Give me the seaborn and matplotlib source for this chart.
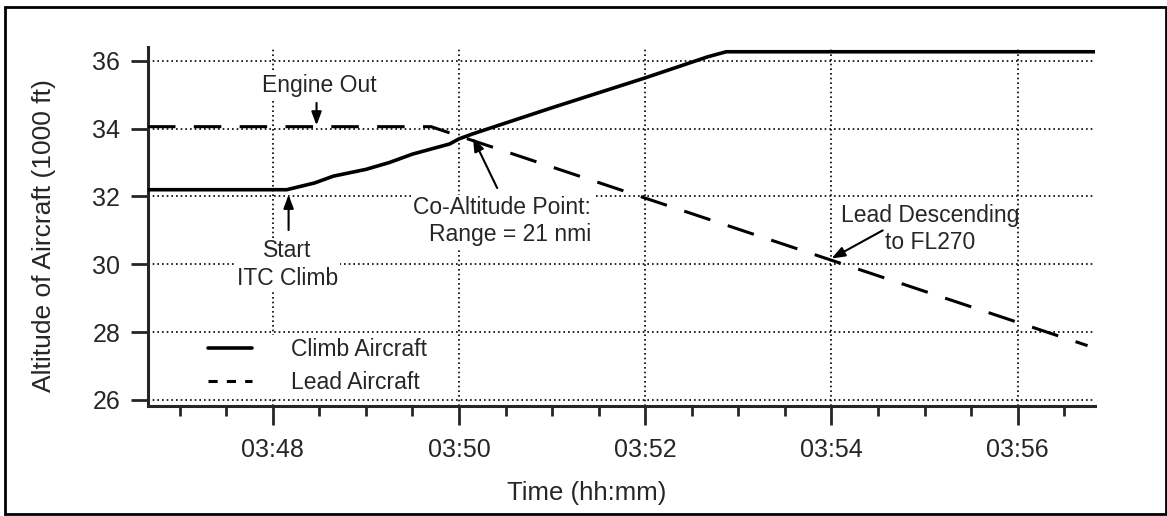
import seaborn as sns
import matplotlib.pyplot as plt
from matplotlib.lines import Line2D
from matplotlib.patches import Rectangle
from matplotlib.ticker import FuncFormatter, MultipleLocator

# time given as minutes after 03:00, altitude in 1000 ft
climb_time = [46.66, 48.15, 48.45, 48.65, 49.0, 49.25, 49.5, 49.9, 50.0, 50.15,
              51.0, 52.0, 52.67, 52.87, 56.83]
climb_alt = [32.2, 32.2, 32.4, 32.6, 32.8, 33.0, 33.25, 33.55, 33.7, 33.85,
             34.62, 35.5, 36.12, 36.27, 36.27]
lead_time = [46.66, 49.7, 56.75]
lead_alt = [34.06, 34.06, 27.6]

y_ticks = [26, 28, 30, 32, 34, 36]
x_ticks = [48, 50, 52, 54, 56]
legend_labels = ['Climb Aircraft', 'Lead Aircraft']

sns.set_style('ticks')
plt.rcParams['font.family'] = ['Liberation Sans', 'DejaVu Sans']

fig = plt.figure(figsize=(11.67, 5.16), dpi=100)
ax = fig.add_axes([0.1268, 0.2132, 0.8115, 0.6957])

sns.lineplot(x=climb_time, y=climb_alt, ax=ax, color='black', linewidth=2.6,
             sort=False, estimator=None, zorder=3)
sns.lineplot(x=lead_time, y=lead_alt, ax=ax, color='black', linewidth=2.2,
             linestyle=(0, (9, 6)), sort=False, estimator=None, zorder=3)

ax.set_xlim(46.66, 56.83)
ax.set_ylim(25.82, 36.41)
ax.set_xticks(x_ticks)
ax.set_yticks(y_ticks)
ax.xaxis.set_minor_locator(MultipleLocator(0.5))
ax.xaxis.set_major_formatter(FuncFormatter(lambda v, p: f"03:{int(round(v)):02d}"))

ax.grid(True, which='major', color='black', linestyle=(0, (1, 1.8)), linewidth=1.2)
ax.set_axisbelow(True)

sns.despine(ax=ax)
for side in ['left', 'bottom']:
    ax.spines[side].set_linewidth(2.2)
ax.tick_params(axis='y', length=12, width=2, pad=8, labelsize=18)
ax.tick_params(axis='x', which='major', length=14, width=2, pad=9, labelsize=18)
ax.tick_params(axis='x', which='minor', length=7, width=2)

ax.set_ylabel('Altitude of Aircraft (1000 ft)', fontsize=19)
ax.yaxis.set_label_coords(-0.097, 0.476)
ax.set_xlabel('Time (hh:mm)', fontsize=18.5)
ax.xaxis.set_label_coords(0.4636, -0.21)

# annotations
box = dict(facecolor='white', edgecolor='none', pad=1)
arrow = dict(arrowstyle='-|>,head_length=0.8,head_width=0.3', color='black',
             lw=1.5, shrinkA=0, shrinkB=0)

ax.text(48.5, 35.26, 'Engine Out', fontsize=16.5, ha='center', va='center', bbox=box)
ax.annotate('', xy=(48.47, 34.1), xytext=(48.47, 34.76), arrowprops=arrow)

ax.text(48.16, 30.0, 'Start\nITC Climb', fontsize=16.5, ha='center', va='center',
        linespacing=1.25, bbox=box)
ax.annotate('', xy=(48.17, 32.05), xytext=(48.17, 31.01), arrowprops=arrow)

ax.text(51.42, 31.27, 'Co-Altitude Point:\nRange = 21 nmi', fontsize=16.5, ha='right',
        va='center', multialignment='right', linespacing=1.25, bbox=box)
ax.annotate('', xy=(50.15, 33.73), xytext=(50.41, 32.25), arrowprops=arrow)

ax.text(55.06, 31.04, 'Lead Descending\nto FL270', fontsize=16.5, ha='center',
        va='center', linespacing=1.25)
ax.annotate('', xy=(54.0, 30.17), xytext=(54.55, 31.0), arrowprops=arrow)

handles = [Line2D([], [], color='black', linewidth=2.6),
           Line2D([], [], color='black', linewidth=2.2, linestyle=(0, (3, 3)))]
leg = ax.legend(handles, legend_labels, loc='lower left', bbox_to_anchor=(0.06, 0.025),
                borderaxespad=0, borderpad=0.15, fontsize=16.5, handlelength=1.9,
                handletextpad=1.7, labelspacing=0.4, frameon=True, fancybox=False)
leg.get_frame().set_facecolor('white')
leg.get_frame().set_edgecolor('none')
leg.get_frame().set_alpha(1)

fig.add_artist(Rectangle((0.0043, 0.004), 0.9948, 0.9824, transform=fig.transFigure,
                         fill=False, edgecolor='black', linewidth=2))

fig.savefig('out.png', dpi=100)
